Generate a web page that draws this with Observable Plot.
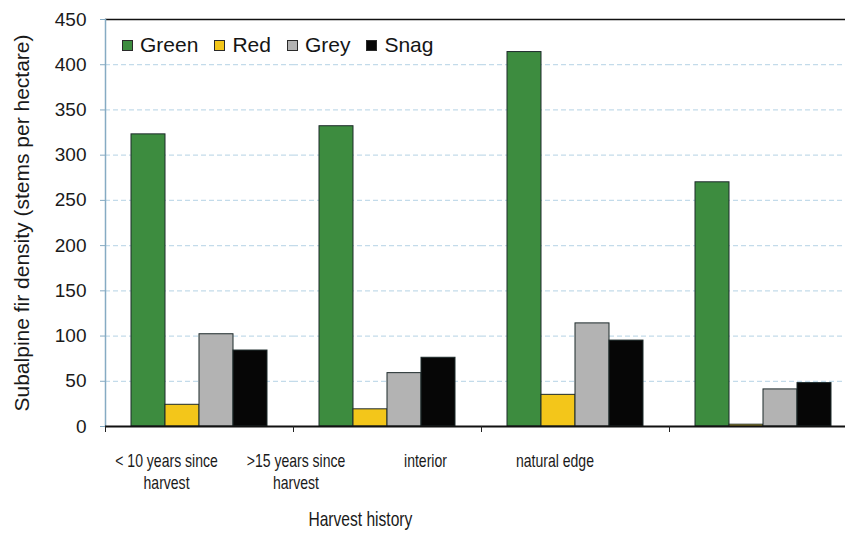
<!DOCTYPE html>
<html><head><meta charset="utf-8">
<script src="https://cdn.jsdelivr.net/npm/d3@7"></script>
<script src="https://cdn.jsdelivr.net/npm/@observablehq/plot@0.6"></script>
<style>
body{margin:0;background:#fff;overflow:hidden;font-family:"Liberation Sans",Arial,sans-serif;}
#wrap{position:relative;width:845px;height:535px;overflow:hidden;}
#wrap svg{display:block;}
#labels{width:1083px;height:90px;transform:scaleX(0.78);transform-origin:0 0;}
#labels svg{max-width:none;}
#legend{position:absolute;left:122px;top:33px;display:flex;align-items:center;font-size:21px;line-height:24px;color:#151515;}
#legend .item{display:flex;align-items:center;margin-right:16px;}
#legend .sw{width:9px;height:9px;border:1px solid #2a2a2a;margin-right:7px;}
</style></head><body><div id="wrap"></div>
<script>
const groups = ["< 10 years since harvest", ">15 years since harvest", "interior", "natural edge"];
const groupLabels = ["< 10 years since\nharvest", ">15 years since\nharvest", "interior", "natural edge"];
const series = ["Green", "Red", "Grey", "Snag"];
const colors = ["#3d8c3f", "#f3c61a", "#b3b3b3", "#060606"];
const green = [323, 332, 414, 270];
const red = [24, 19, 35, 2];
const grey = [102, 59, 114, 41];
const snag = [84, 76, 95, 48];
const yTicks = [0, 50, 100, 150, 200, 250, 300, 350, 400, 450];
const gridTicks = [50, 100, 150, 200, 250, 300, 350, 400];
const yTitle = "Subalpine fir density (stems per hectare)";
const xTitle = "Harvest history";

const valuesBySeries = [green, red, grey, snag];
const data = [];
groups.forEach((g, gi) => series.forEach((s, si) => data.push({group: g, series: s, value: valuesBySeries[si][gi]})));

const font = "'Liberation Sans', Arial, sans-serif";

const main = Plot.plot({
  width: 845, height: 445,
  marginTop: 19, marginBottom: 19, marginLeft: 105, marginRight: -12,
  style: {fontFamily: font, color: "#1a1a1a", background: "transparent"},
  fx: {domain: groups, padding: 0},
  x: {domain: series, paddingInner: 0, paddingOuter: 0.725, axis: null},
  y: {domain: [0, 450]},
  color: {domain: series, range: colors},
  marks: [
    Plot.ruleY(gridTicks, {stroke: "#c3dbea", strokeWidth: 1.2, strokeDasharray: "5,3"}),
    Plot.ruleY([450], {stroke: "#111", strokeWidth: 1.5}),
    Plot.barY(data, {fx: "group", x: "series", y: "value", fill: "series", stroke: "#1d2a2b", strokeWidth: 1}),
    Plot.frame({anchor: "left", facetAnchor: "left", stroke: "#86abc3", strokeWidth: 1.5}),
    Plot.ruleY([0], {stroke: "#111", strokeWidth: 2}),
    Plot.axisY({ticks: yTicks, tickSize: 5, tickPadding: 14, stroke: "#86abc3", fill: "#1a1a1a", fontSize: 19, label: null}),
    Plot.axisFx({anchor: "bottom", tickSize: 6, tickFormat: () => "", dx: -94, stroke: "#222", label: null}),
    Plot.text([groups[0]], {fx: d => d, text: () => yTitle, frameAnchor: "left", textAnchor: "middle", rotate: -90, dx: -83, fontSize: 21, fill: "#1a1a1a"})
  ]
});

// label strip is drawn 1/0.78 wider and squeezed horizontally to match the narrow lettering
const labels = Plot.plot({
  width: 1083, height: 90,
  marginTop: 0, marginBottom: 0, marginLeft: 128, marginRight: 288,
  style: {fontFamily: font, color: "#1a1a1a", background: "transparent"},
  x: {type: "band", domain: groups, padding: 0, axis: null},
  marks: [
    Plot.text(groups, {x: d => d, text: (d, i) => groupLabels[i], frameAnchor: "top", lineAnchor: "top", dy: 6, lineHeight: 1.22, fontSize: 18, fill: "#1a1a1a"}),
    Plot.text([xTitle], {frameAnchor: "bottom", lineAnchor: "bottom", dy: -10, fontSize: 20, fill: "#1a1a1a"})
  ]
});

const wrap = document.getElementById("wrap");
wrap.appendChild(main);
const lw = document.createElement("div");
lw.id = "labels";
lw.appendChild(labels);
wrap.appendChild(lw);

const legend = document.createElement("div");
legend.id = "legend";
series.forEach((s, i) => {
  const item = document.createElement("div");
  item.className = "item";
  const sw = document.createElement("div");
  sw.className = "sw";
  sw.style.background = colors[i];
  const t = document.createElement("span");
  t.textContent = s;
  item.appendChild(sw);
  item.appendChild(t);
  legend.appendChild(item);
});
wrap.appendChild(legend);
</script>
</body></html>
